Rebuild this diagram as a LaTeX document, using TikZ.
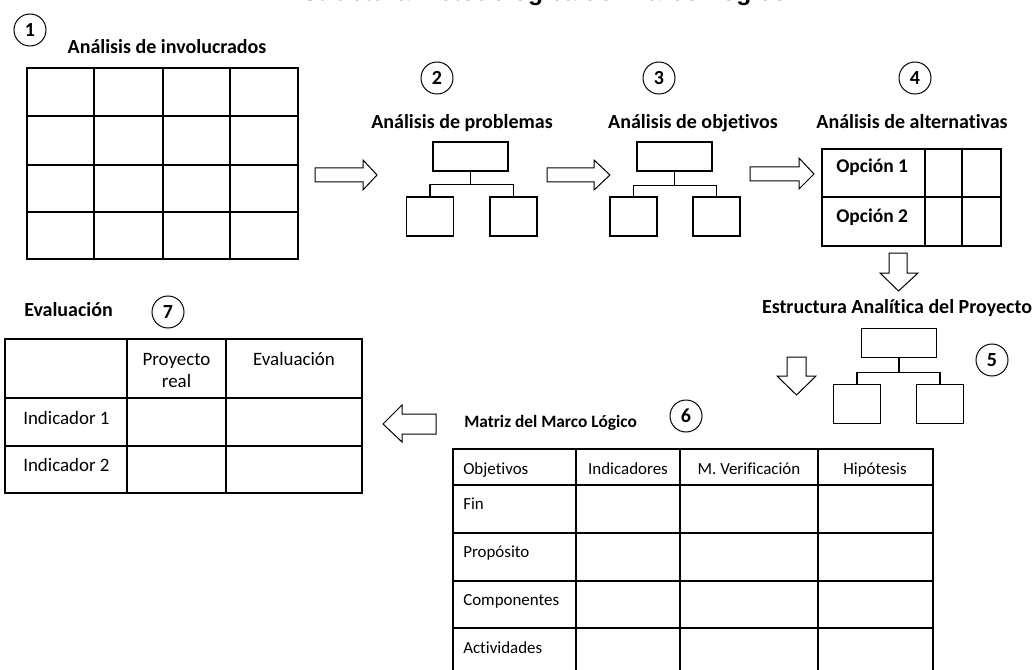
\documentclass[tikz,border=0pt]{standalone}
\usepackage{fontspec}
\setmainfont{Carlito}[Ligatures=NoCommon]
\newfontfamily\titlefont{Liberation Sans}
\usepackage{xcolor}
\usepackage{pgf,tikz}

\tikzset{
  head/.style={inner sep=0.75pt,font=\fontsize{15}{18}\selectfont\bfseries},
  numcirc/.style={draw,circle,line width=0.75pt,minimum size=24pt,inner sep=0pt,font=\fontsize{15}{18}\selectfont\bfseries},
  tabline/.style={line width=1.5pt,line cap=rect},
  cell/.style={inner sep=0pt,font=\fontsize{12.7}{15}\selectfont},
  evcell/.style={inner sep=0pt,font=\fontsize{14.2}{17}\selectfont},
  topbox/.style={draw,line width=0.9pt,minimum width=56.25pt,minimum height=21.75pt,inner sep=0pt},
  leafbox/.style={draw,line width=0.9pt,minimum width=35.25pt,minimum height=29.25pt,inner sep=0pt},
  blockarrow/.style={line width=0.75pt,line join=miter}
}

\begin{document}
\begin{tikzpicture}[x=0.75pt,y=0.75pt,yscale=-1,xscale=1]
\useasboundingbox (0,0) rectangle (1034,670);

% Title (cut by the top edge)
\draw (537,0.5) node (title) [anchor=base][inner sep=0pt] [font=\titlefont\fontsize{18.5}{22}\selectfont\bfseries] {Estructura metodológica del Marco Lógico};

%Shape: Table [id:involucrados]
\foreach \x in {27,94,163,230,298} \draw [tabline] (\x,68) -- (\x,259);
\foreach \y in {68,116,165,212,259} \draw [tabline] (27,\y) -- (298,\y);

%Shape: Right Arrow [id:arrow1]
\draw [blockarrow] (315,168) -- (363,168) -- (363,160) -- (377,175) -- (363,190) -- (363,182) -- (315,182) -- cycle ;
%Shape: Right Arrow [id:arrow2]
\draw [blockarrow] (547,168) -- (594,168) -- (594,160) -- (610,175) -- (594,190) -- (594,182) -- (547,182) -- cycle ;
%Shape: Right Arrow [id:arrow3]
\draw [blockarrow] (750,167) -- (799,167) -- (799,158) -- (814,174) -- (799,189) -- (799,181) -- (750,181) -- cycle ;
%Shape: Down Arrow [id:arrow4]
\draw [blockarrow] (889,253) -- (907,253) -- (907,273) -- (918,273) -- (898.5,291) -- (880,273) -- (889,273) -- cycle ;
%Shape: Down Arrow [id:arrow5]
\draw [blockarrow] (787,357) -- (806,357) -- (806,376) -- (816,376) -- (796.5,395) -- (777,376) -- (787,376) -- cycle ;
%Shape: Left Arrow [id:arrow6]
\draw [blockarrow] (436,414) -- (402,414) -- (402,405) -- (383,424) -- (402,442) -- (402,434) -- (436,434) -- cycle ;

%Shape: Tree [id:problemas]
\draw (470.5,156.5) node (probtop) [topbox] {};
\draw (430,216.5) node (probleft) [leafbox] {};
\draw (513.5,216.5) node (probright) [leafbox] {};
\draw [line width=0.9pt] (probtop.south) -- ++(0,13) coordinate (probjoin);
\draw [line width=0.9pt] (probleft.north) |- (probjoin) -| (probright.north);

%Shape: Tree [id:objetivos]
\draw (674.5,156.5) node (objtop) [topbox] {};
\draw (633.5,216.5) node (objleft) [leafbox] {};
\draw (716.5,216.5) node (objright) [leafbox] {};
\draw [line width=0.9pt] (objtop.south) -- ++(0,14) coordinate (objjoin);
\draw [line width=0.9pt] (objleft.north) |- (objjoin) -| (objright.north);

%Shape: Tree [id:estructura]
\draw (899,343) node (eaptop) [topbox] {};
\draw (857,404) node (eapleft) [leafbox] {};
\draw (940,404) node (eapright) [leafbox] {};
\draw [line width=0.9pt] (eaptop.south) -- ++(0,14) coordinate (eapjoin);
\draw [line width=0.9pt] (eapleft.north) |- (eapjoin) -| (eapright.north);

%Shape: Table [id:alternativas]
\foreach \x in {822,925,962,1001} \draw [tabline] (\x,149) -- (\x,246);
\foreach \y in {149,197,246} \draw [tabline] (822,\y) -- (1001,\y);

%Shape: Table [id:matriz]
\foreach \x in {453,576,680,818,933} \draw [tabline] (\x,449) -- (\x,676);
\foreach \y in {449,485,533,581,628,676} \draw [tabline] (453,\y) -- (933,\y);

%Shape: Table [id:evaluacion]
\foreach \x in {5,127,226,362} \draw [tabline] (\x,339) -- (\x,493);
\foreach \y in {339,398,446,493} \draw [tabline] (5,\y) -- (362,\y);

% Step circles
\draw (30,30) node (step1) [numcirc] {1};
\draw (437,78) node (step2) [numcirc] {2};
\draw (659,78) node (step3) [numcirc] {3};
\draw (915,78) node (step4) [numcirc] {4};
\draw (992,360) node (step5) [numcirc] {5};
\draw (686,416) node (step6) [numcirc] {6};
\draw (168,312) node (step7) [numcirc] {7};

% Text Node
\draw (167,54) node (involucrados) [anchor=base][head] {Análisis de involucrados};
% Text Node
\draw (462,129) node (problemas) [anchor=base][head] {Análisis de problemas};
% Text Node
\draw (693,129) node (objetivos) [anchor=base][head] {Análisis de objetivos};
% Text Node
\draw (912,129) node (alternativas) [anchor=base][head] {Análisis de alternativas};
% Text Node
\draw (897,313) node (estructura) [anchor=base][head] {Estructura Analítica del Proyecto};
% Text Node
\draw (463,427) node (matriz) [anchor=base west][head] [font=\fontsize{13}{16}\selectfont\bfseries] {Matriz del Marco Lógico};
% Text Node
\draw (23,316) node (evaluacion) [anchor=base west][head] {Evaluación};

% Text Node
\draw (836,173) node (opcion1) [anchor=base west][evcell] [font=\fontsize{14.6}{17}\selectfont\bfseries] {Opción 1};
% Text Node
\draw (836,223) node (opcion2) [anchor=base west][evcell] [font=\fontsize{14.6}{17}\selectfont\bfseries] {Opción 2};

% Text Node
\draw (463,474) node (objcol) [anchor=base west][cell] {Objetivos};
% Text Node
\draw (628,474) node (indcol) [anchor=base][cell] {Indicadores};
% Text Node
\draw (749,474) node (vercol) [anchor=base][cell] {M. Verificación};
% Text Node
\draw (875,474) node (hipcol) [anchor=base][cell] {Hipótesis};
% Text Node
\draw (463,509) node (fin) [anchor=base west][cell] {Fin};
% Text Node
\draw (463,557) node (proposito) [anchor=base west][cell] {Propósito};
% Text Node
\draw (463,605) node (componentes) [anchor=base west][cell] {Componentes};
% Text Node
\draw (463,653) node (actividades) [anchor=base west][cell] {Actividades};

% Text Node
\draw (176.5,365) node (proyecto) [anchor=base][evcell] {Proyecto};
% Text Node
\draw (176.5,387) node (real) [anchor=base][evcell] {real};
% Text Node
\draw (294,365) node (evalcol) [anchor=base][evcell] {Evaluación};
% Text Node
\draw (23,424) node (ind1) [anchor=base west][evcell] {Indicador 1};
% Text Node
\draw (23,471) node (ind2) [anchor=base west][evcell] {Indicador 2};

\end{tikzpicture}
\end{document}
